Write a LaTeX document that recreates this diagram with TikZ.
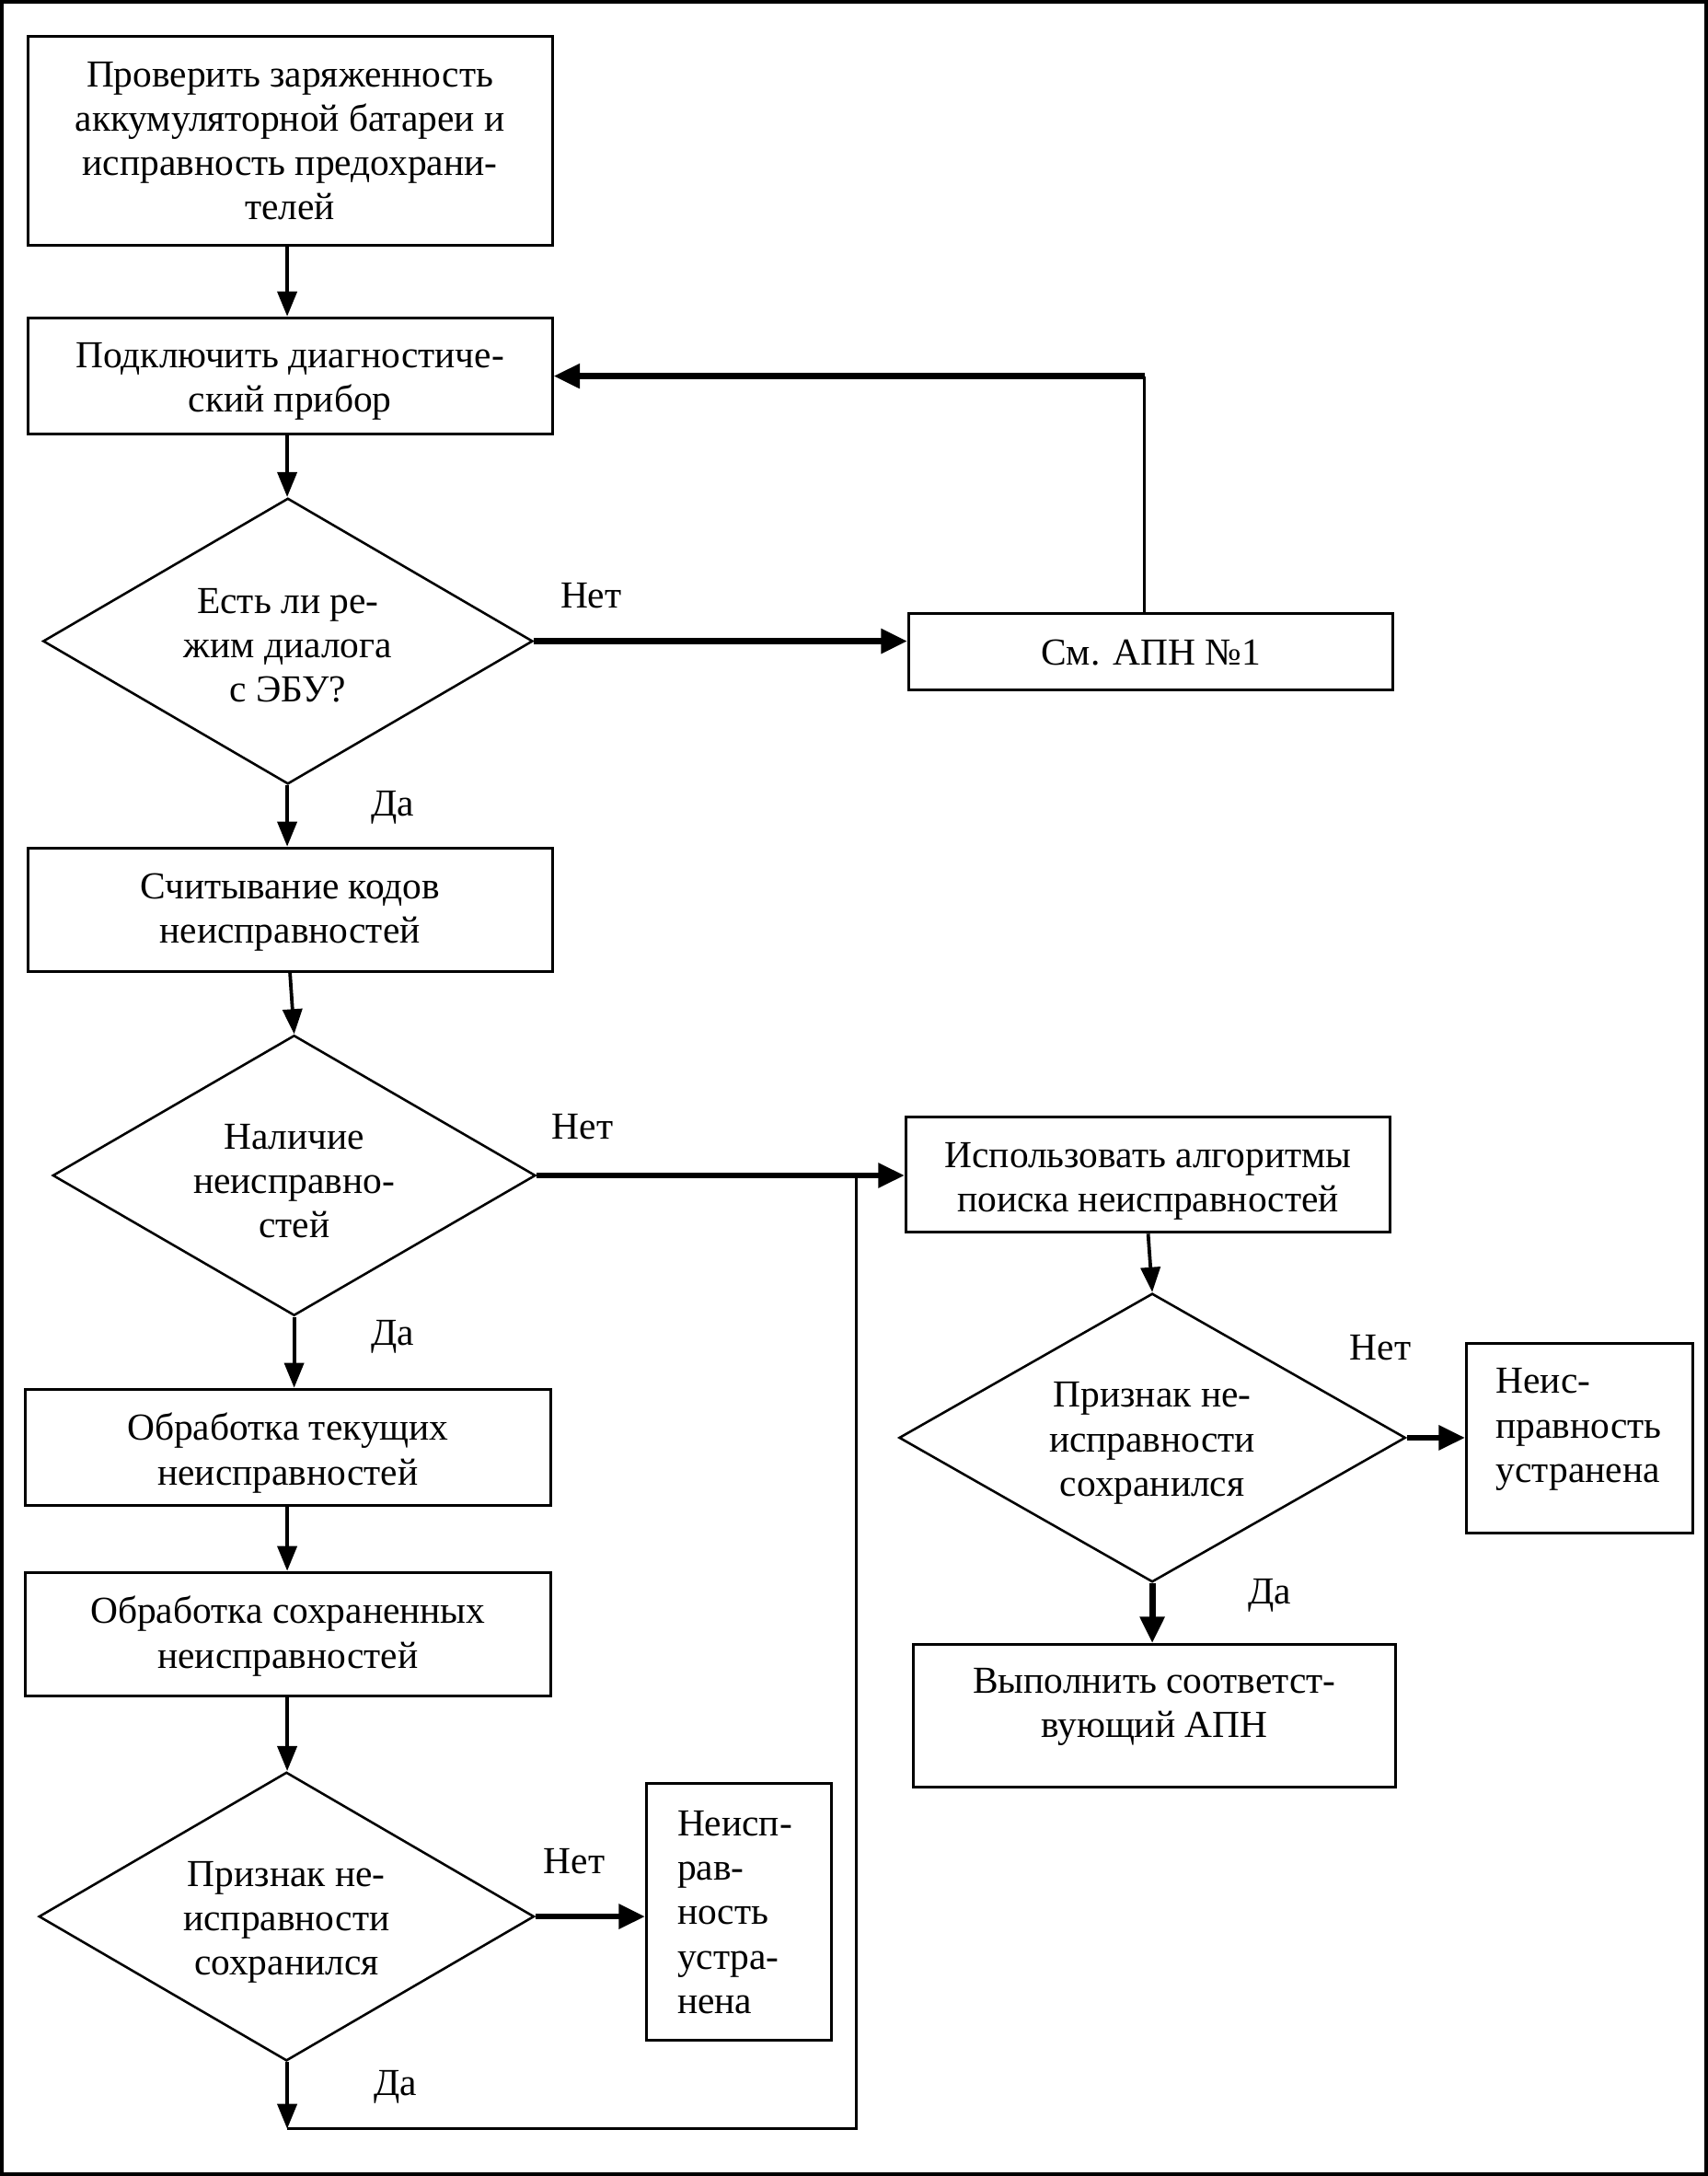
\documentclass[tikz,border=0pt]{standalone}
\usepackage{fontspec}
\setmainfont{Liberation Serif}
\usetikzlibrary{shapes.geometric,arrows.meta}
\begin{document}
\begin{tikzpicture}[x=1pt,y=-1pt,
  every node/.style={font=\fontsize{27.5}{32}\selectfont},
  box/.style={draw, line width=2pt, inner sep=0pt},
  dia/.style={draw, diamond, line width=1.7pt, inner sep=0pt},
  lbl/.style={inner sep=0pt},
  txt/.style={inner sep=0pt, align=center},
  thinarr/.style={line width=2.5pt, -{Triangle[length=18pt,width=14pt]}},
  thickarr/.style={line width=4.5pt, -{Triangle[length=19pt,width=17pt]}},
  plainline/.style={line width=2.2pt}]
\useasboundingbox (0,0) rectangle (1231,1568);
\draw[line width=2.5pt] (1.25,1.25) rectangle (1229.75,1566.75);

% boxes
\node[box, minimum width=378, minimum height=151] (b1) at (209,101.5) {};
\node[txt] (t1b) at (209,101.5)
  {Проверить заряженность\\аккумуляторной батареи и\\исправность предохрани-\\телей};
\node[box, minimum width=378, minimum height=84] (b2) at (209,271) {};
\node[txt] (t2b) at (209,275) {Подключить диагностиче-\\ский прибор};
\node[dia, minimum width=353, minimum height=206] (d1) at (207.5,462) {};
\node[txt] (t1) at (207.5,465) {Есть ли ре-\\жим диалога\\с ЭБУ?};
\node[box, minimum width=349, minimum height=55] (apn) at (829.5,469.5) {};
\node[txt] (tapn) at (829.5,470) {См. АПН №1};
\node[box, minimum width=378, minimum height=89] (b3) at (209,655.5) {};
\node[txt] (t3b) at (209,657.5) {Считывание кодов\\неисправностей};
\node[dia, minimum width=348, minimum height=202] (d2) at (212,847) {};
\node[txt] (t2) at (212,851) {Наличие\\неисправно-\\стей};
\node[box, minimum width=349, minimum height=83] (b4) at (827.5,846.5) {};
\node[txt] (t4b) at (827.5,851) {Использовать алгоритмы\\поиска неисправностей};
\node[dia, minimum width=365, minimum height=208] (d3) at (830.5,1036) {};
\node[txt] (t3) at (830.5,1040) {Признак не-\\исправности\\сохранился};
\node[box, minimum width=163, minimum height=137] (b5) at (1138.5,1036.5) {};
\node[lbl, align=left, anchor=west] (t5) at (1078,1030) {Неис-\\правность\\устранена};
\node[box, minimum width=348, minimum height=103] (b6) at (832,1236.5) {};
\node[txt] (t6) at (832,1230) {Выполнить соответст-\\вующий АПН};
\node[box, minimum width=379, minimum height=84] (b7) at (207.5,1043) {};
\node[txt] (t7b) at (207.5,1047) {Обработка текущих\\неисправностей};
\node[box, minimum width=379, minimum height=89] (b8) at (207.5,1177.5) {};
\node[txt] (t8b) at (207.5,1179) {Обработка сохраненных\\неисправностей};
\node[dia, minimum width=357, minimum height=208] (d4) at (206.5,1381) {};
\node[txt] (t4) at (206.5,1385) {Признак не-\\исправности\\сохранился};
\node[box, minimum width=133, minimum height=185] (b9) at (532.5,1377.5) {};
\node[lbl, align=left, anchor=west] (t9) at (488,1378) {Неисп-\\рав-\\ность\\устра-\\нена};

% labels
\node[lbl] (n1) at (426,429) {Нет};
\node[lbl] (y1) at (283,582) {Да};
\node[lbl] (n2) at (420,812) {Нет};
\node[lbl] (y2) at (283,963) {Да};
\node[lbl] (n3) at (995,971) {Нет};
\node[lbl] (y3) at (915,1150) {Да};
\node[lbl] (n4) at (414,1341) {Нет};
\node[lbl] (y4) at (285,1504) {Да};

% coordinates
\coordinate (loopc) at (825,271);
\coordinate (ret) at (207,1534);
\coordinate (retc) at (617,1534);
\coordinate (junc) at (617,847);

% connectors
\draw[thinarr] (b1.south -| ret) -- (b2.north -| ret);
\draw[thinarr] (b2.south -| ret) -- (d1.north -| ret);
\draw[thinarr] (d1.south -| ret) -- (b3.north -| ret);
\draw[thickarr] (d1.east) -- (d1.east -| apn.west);
\draw[plainline] (apn.north -| loopc) -- (loopc);
\draw[thickarr] (loopc) -- (b2.east);
\draw[thinarr] (b3.south) -- (d2.north);
\draw[thickarr] (d2.east) -- (d2.east -| b4.west);
\draw[thinarr] (b4.south) -- (d3.north);
\draw[thickarr] (d3.east) -- (b5.west |- d3.east);
\draw[thickarr] (d3.south) -- (d3.south |- b6.north);
\draw[thinarr] (d2.south) -- (d2.south |- b7.north);
\draw[thinarr] (b7.south -| ret) -- (b8.north -| ret);
\draw[thinarr] (b8.south -| ret) -- (d4.north -| ret);
\draw[thickarr] (d4.east) -- (b9.west |- d4.east);
\draw[thinarr] (d4.south -| ret) -- (ret);
\draw[plainline] (ret) -- (retc) -- (junc);
\end{tikzpicture}
\end{document}
